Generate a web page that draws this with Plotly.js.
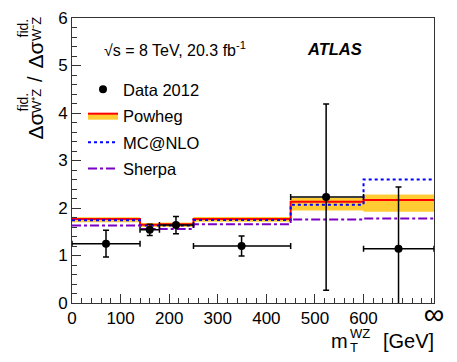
<!DOCTYPE html>
<html>
<head>
<meta charset="utf-8">
<script src="https://cdn.plot.ly/plotly-3.0.1.min.js"></script>
<style>body{margin:0;padding:0;background:#fff;} #chart{width:457px;height:362px;}</style>
</head>
<body>
<div id="chart"></div>
<script>
// Bin edges of m_T^WZ [GeV]; last bin extends to "infinity" (drawn up to 745)
var binEdges = [0, 140, 180, 250, 450, 600, 745];

// Data 2012
var dataX = [70, 160, 214, 349, 523, 672];
var dataY = [1.25, 1.54, 1.64, 1.20, 2.23, 1.14];
var dataErrY = [0.28, 0.12, 0.18, 0.21, 1.96, 1.30];

// Predictions per bin
var powheg   = [1.77, 1.65, 1.66, 1.77, 2.13, 2.17];
var powhegLo = [1.70, 1.60, 1.60, 1.71, 1.95, 1.92];
var powhegHi = [1.80, 1.68, 1.69, 1.81, 2.21, 2.28];
var mcatnlo  = [1.74, 1.63, 1.63, 1.75, 2.07, 2.60];
var sherpa   = [1.63, 1.56, 1.56, 1.66, 1.76, 1.78];

// x tick labels
var xTickVals = [0, 100, 200, 300, 400, 500, 600, 745];
var xTickText = ['0', '100', '200', '300', '400', '500', '600', '<span style="font-size:29px">∞</span>'];

function stepY(v) { return v.concat([v[v.length - 1]]); }

var errPlus = [], errMinus = [];
for (var i = 0; i < dataX.length; i++) {
  errMinus.push(dataX[i] - binEdges[i]);
  errPlus.push(binEdges[i + 1] - dataX[i]);
}

var yellow = '#ffcc33';
var traces = [
  { x: binEdges, y: stepY(powhegLo), mode: 'lines', line: { shape: 'hv', width: 0, color: yellow },
    showlegend: false, hoverinfo: 'skip' },
  { x: binEdges, y: stepY(powhegHi), mode: 'lines', line: { shape: 'hv', width: 0, color: yellow },
    fill: 'tonexty', fillcolor: yellow, showlegend: false, hoverinfo: 'skip' },
  { x: binEdges, y: stepY(powheg), mode: 'lines', name: 'Powheg', legendrank: 2, legendgroup: 'p',
    line: { shape: 'hv', width: 2, color: '#ff0000' }, fill: 'tonexty', fillcolor: yellow },
  { x: binEdges, y: stepY(mcatnlo), mode: 'lines', name: 'MC@NLO', legendrank: 3, legendgroup: 'm',
    line: { shape: 'hv', width: 2, color: '#0000ff', dash: 'dot' } },
  { x: binEdges, y: stepY(sherpa), mode: 'lines', name: 'Sherpa', legendrank: 4, legendgroup: 's',
    line: { shape: 'hv', width: 2, color: '#7a00c4', dash: 'dashdot' } },
  { x: dataX, y: dataY, mode: 'markers', name: 'Data 2012', legendrank: 1, legendgroup: 'd',
    marker: { color: '#000', size: 8 },
    error_y: { type: 'data', array: dataErrY, color: '#000', thickness: 1.5, width: 3 },
    error_x: { type: 'data', array: errPlus, arrayminus: errMinus, color: '#000', thickness: 1.5, width: 3 } }
];

var FF = 'Liberation Sans, Arial, sans-serif';
var axisFont = { family: FF, size: 17, color: '#000' };

// helpers converting frame pixel positions to paper fractions (plot area 72..434 x 18..303)
function px(x) { return (x - 72) / 362; }
function py(y) { return (303 - y) / 285; }
function txt(t, x, y, size, xa, ya, angle) {
  return { text: t, xref: 'paper', yref: 'paper', x: px(x), y: py(y), xanchor: xa, yanchor: ya,
           showarrow: false, textangle: angle || 0, borderpad: 0,
           font: { size: size, family: FF, color: '#000' } };
}

var layout = {
  width: 457, height: 362,
  margin: { l: 72, r: 23, t: 18, b: 59 },
  paper_bgcolor: '#fff', plot_bgcolor: '#fff',
  font: { family: FF, color: '#000' },
  showlegend: true,
  legend: { x: px(83), y: py(72), xanchor: 'left', yanchor: 'top', bgcolor: 'rgba(0,0,0,0)',
            traceorder: 'grouped', tracegroupgap: 2,
            font: { size: 16.5, family: FF } },
  xaxis: {
    range: [0, 745], showgrid: false, zeroline: false,
    showline: true, mirror: true, linecolor: '#333', linewidth: 1,
    ticks: 'inside', ticklen: 9, tickcolor: '#333',
    tickmode: 'array', tickvals: xTickVals, ticktext: xTickText,
    minor: { ticks: 'inside', ticklen: 5, dtick: 20, tick0: 0, tickcolor: '#333' },
    tickfont: axisFont
  },
  yaxis: {
    range: [0, 6], showgrid: false, zeroline: false,
    showline: true, mirror: true, linecolor: '#333', linewidth: 1,
    ticks: 'inside', ticklen: 9, tickcolor: '#333', dtick: 1, tick0: 0,
    minor: { ticks: 'inside', ticklen: 5, dtick: 0.2, tickcolor: '#333' },
    tickfont: axisFont
  },
  annotations: [
    txt('√s = 8 TeV, 20.3 fb<sup>-1</sup>', 103, 49, 16, 'left', 'middle'),
    txt('<b><i>ATLAS</i></b>', 306, 49, 16.5, 'left', 'middle'),
    // x-axis title: m, stacked T / WZ, [GeV]
    txt('[GeV]', 435, 341, 20, 'right', 'middle'),
    txt('m', 349, 341, 20, 'right', 'middle'),
    txt('WZ', 349, 334, 13, 'left', 'middle'),
    txt('T', 349, 347, 13, 'left', 'middle'),
    // y-axis title (rotated, reading bottom to top)
    txt('Δσ', 35, 141, 21, 'center', 'bottom', -90),
    txt('fid.', 22, 113, 14, 'center', 'bottom', -90),
    txt('W⁺Z', 36, 114, 13, 'center', 'bottom', -90),
    txt('/', 35, 79, 20, 'center', 'middle', -90),
    txt('Δσ', 35, 70, 21, 'center', 'bottom', -90),
    txt('fid.', 22, 39, 14, 'center', 'bottom', -90),
    txt('W⁻Z', 36, 42, 13, 'center', 'bottom', -90)
  ]
};

Plotly.newPlot('chart', traces, layout, { staticPlot: true });
</script>
</body>
</html>
